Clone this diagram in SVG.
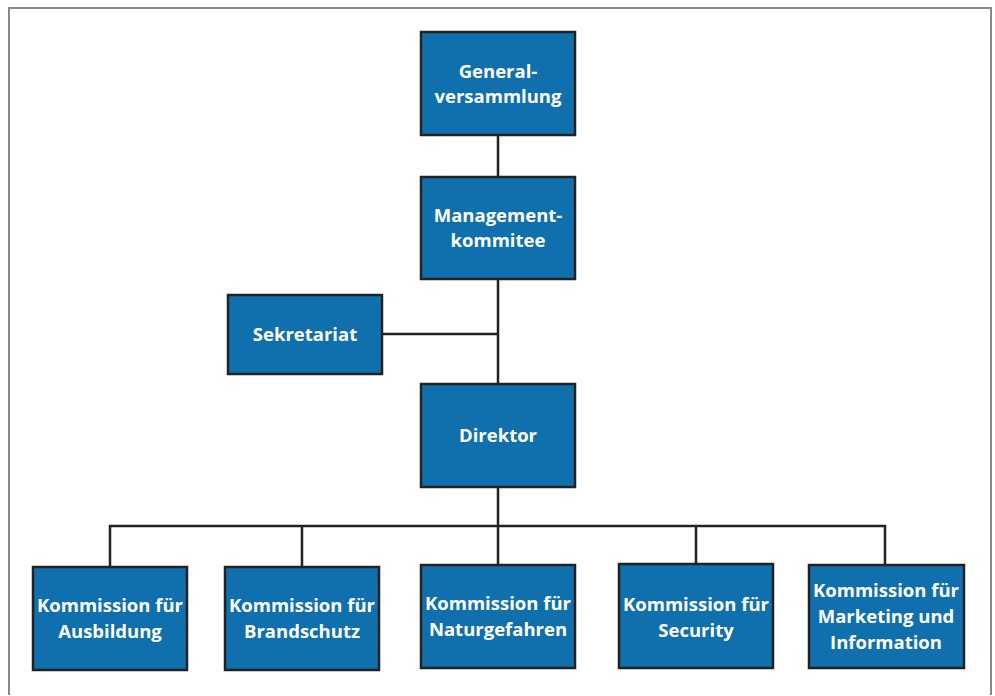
<svg xmlns="http://www.w3.org/2000/svg" width="995" height="696" viewBox="0 0 995 696">
<style>
.box{fill:#1070ad;stroke:#222;stroke-width:2.5}
.t{font-family:"Open Sans","Noto Sans",sans-serif;font-weight:bold;font-size:18.5px;fill:#fff;text-anchor:middle}
.c{fill:none;stroke:#222;stroke-width:2.5}
</style>
<rect width="995" height="696" fill="#fff"/>
<path d="M9,695 V8 H991 V695" fill="none" stroke="#888" stroke-width="2"/>
<g id="connectors">
<path class="c" d="M498,135 V177"/>
<path class="c" d="M498,279 V384"/>
<path class="c" d="M383,334 H498"/>
<path class="c" d="M498,487 V526"/>
<path class="c" d="M110,567 V526 H885 V565"/>
<path class="c" d="M302,526 V567"/>
<path class="c" d="M498,526 V565"/>
<path class="c" d="M696,526 V564"/>
</g>
<g id="generalversammlung"><rect class="box" x="421" y="32" width="154" height="103"/><text class="t" x="498" y="78">General-</text><text class="t" x="498" y="103">versammlung</text></g>
<g id="managementkommitee"><rect class="box" x="421" y="177" width="154" height="102"/><text class="t" x="498" y="222">Management-</text><text class="t" x="498" y="247">kommitee</text></g>
<g id="sekretariat"><rect class="box" x="228" y="295" width="154" height="79"/><text class="t" x="305" y="341">Sekretariat</text></g>
<g id="direktor"><rect class="box" x="421" y="384" width="154" height="103"/><text class="t" x="498" y="442">Direktor</text></g>
<g id="ausbildung"><rect class="box" x="33" y="567" width="154" height="103"/><text class="t" x="110" y="612">Kommission für</text><text class="t" x="110" y="638">Ausbildung</text></g>
<g id="brandschutz"><rect class="box" x="225" y="567" width="154" height="103"/><text class="t" x="302" y="612">Kommission für</text><text class="t" x="302" y="638">Brandschutz</text></g>
<g id="naturgefahren"><rect class="box" x="421" y="565" width="154" height="103"/><text class="t" x="498" y="610">Kommission für</text><text class="t" x="498" y="636">Naturgefahren</text></g>
<g id="security"><rect class="box" x="619" y="564" width="154" height="104"/><text class="t" x="696" y="611">Kommission für</text><text class="t" x="696" y="637">Security</text></g>
<g id="marketing"><rect class="box" x="809" y="565" width="155" height="103"/><text class="t" x="886" y="597">Kommission für</text><text class="t" x="886" y="623">Marketing und</text><text class="t" x="886" y="649">Information</text></g>
</svg>
